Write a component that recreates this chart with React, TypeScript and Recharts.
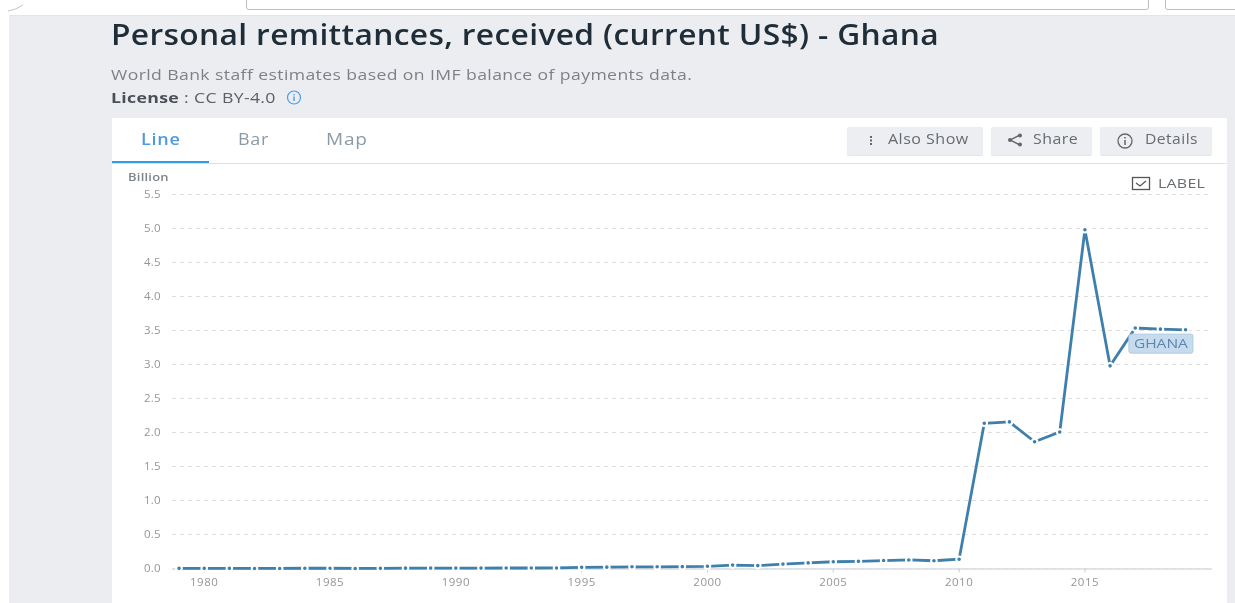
import React from "react";
import { LineChart, Line, XAxis, YAxis, CartesianGrid, LabelList } from "recharts";

const years = [1979,1980,1981,1982,1983,1984,1985,1986,1987,1988,1989,1990,1991,1992,1993,1994,1995,1996,1997,1998,1999,2000,2001,2002,2003,2004,2005,2006,2007,2008,2009,2010,2011,2012,2013,2014,2015,2016,2017,2018,2019];
const remittances = [0.002,0.002,0.002,0.001,0.001,0.004,0.004,0.001,0.002,0.005,0.006,0.006,0.006,0.007,0.007,0.008,0.017,0.02,0.025,0.025,0.027,0.032,0.05,0.043,0.065,0.082,0.099,0.105,0.117,0.126,0.114,0.136,2.135,2.156,1.864,2.008,4.982,2.98,3.537,3.52,3.51];
const yTicks = [0,0.5,1,1.5,2,2.5,3,3.5,4,4.5,5,5.5];
const xTicks = [1980,1985,1990,1995,2000,2005,2010,2015];
const seriesName = "GHANA";
const labelYear = 2018;
const data = years.map((year, i) => ({ year, value: remittances[i] }));

const FONT = "'Open Sans', sans-serif";
const abs = (left: number, top: number, extra: React.CSSProperties = {}): React.CSSProperties => ({
  position: "absolute", left, top, whiteSpace: "nowrap", fontFamily: FONT, ...extra,
});
const wide = (sx: number): React.CSSProperties => ({ transform: `scaleX(${sx})`, transformOrigin: "left center" });

function Button({ left, width, label, textLeft, sx, icon }: { left: number; width: number; label: string; textLeft: number; sx: number; icon: React.ReactNode }) {
  return (
    <div style={abs(left, 127, { width, height: 28, background: "#eceef1", borderRadius: 2, boxShadow: "0 1px 1px #e2e3e6" })}>
      {icon}
      <span style={abs(textLeft - left, 3, { fontSize: 14.5, color: "#676c71", letterSpacing: 0.42, lineHeight: "18px", ...wide(sx) })}>{label}</span>
    </div>
  );
}

function SeriesTag(props: any) {
  const { x, y, index } = props;
  if (years[index] !== labelYear) return null;
  return (
    <g>
      <rect x={x - 31.5} y={y + 5} width={64} height={19} rx={2} fill="#c6dbee" stroke="#aecbe4" />
      <text x={x + 0.5} y={y + 19} textAnchor="middle" fontFamily={FONT} fontSize={12.5} textLength={54} lengthAdjust="spacingAndGlyphs" fill="#5f86ad">{seriesName}</text>
    </g>
  );
}

export default function App() {
  return (
    <div style={{ position: "fixed", left: 0, top: 0, width: 1235, height: 603, overflow: "hidden", background: "#ffffff", filter: "blur(0.35px)" }}>
      <div style={{ position: "absolute", left: 9, top: 15, width: 1226, height: 588, background: "#ecedf1", borderTop: "1px solid #e4e4e6", boxSizing: "border-box" }} />
      <div style={{ position: "absolute", left: 246, top: -4, width: 903, height: 14, background: "#fff", border: "1px solid #bdbdbd", borderRadius: 3, boxSizing: "border-box" }} />
      <div style={{ position: "absolute", left: 1165, top: -4, width: 80, height: 14, background: "#fff", border: "1px solid #bdbdbd", borderRadius: 3, boxSizing: "border-box" }} />
      <svg style={{ position: "absolute", left: 0, top: 0 }} width={30} height={16}>
        <path d="M8 11 Q16 10 23 5" fill="none" stroke="#c4c4c4" />
      </svg>

      <div style={abs(111, 15, { fontSize: 28, fontWeight: 600, color: "#1f2d38", letterSpacing: 0.3, lineHeight: "38px", ...wide(1.134) })}>Personal remittances, received (current US$) - Ghana</div>
      <div style={abs(111, 64, { fontSize: 15, color: "#7d8186", letterSpacing: 0.34, lineHeight: "20px", ...wide(1.173) })}>World Bank staff estimates based on IMF balance of payments data.</div>
      <div style={abs(111, 87, { fontSize: 15, color: "#5c6066", letterSpacing: 0.28, lineHeight: "20px", ...wide(1.18) })}><b style={{ color: "#4a4f55" }}>License</b> : CC BY-4.0</div>
      <svg style={{ position: "absolute", left: 286, top: 90 }} width={16} height={16}>
        <circle cx={8} cy={7.5} r={6.5} fill="none" stroke="#4a9be8" strokeWidth={1.2} />
        <path d="M8 6.5V11M8 4V5.2" stroke="#4a9be8" strokeWidth={1.4} />
      </svg>

      <div style={{ position: "absolute", left: 112, top: 118, width: 1115, height: 485, background: "#fff" }} />
      <div style={{ position: "absolute", left: 112, top: 163, width: 1115, height: 1, background: "#dfe1e4" }} />
      <div style={{ position: "absolute", left: 112, top: 161, width: 97, height: 2, background: "#2f9bea" }} />
      <div style={abs(141, 129, { fontSize: 16, fontWeight: 600, color: "#4c9be0", letterSpacing: 0.65, lineHeight: "20px", ...wide(1.125) })}>Line</div>
      <div style={abs(238, 129, { fontSize: 16, color: "#8a9aa6", letterSpacing: 0.65, lineHeight: "20px", ...wide(1.125) })}>Bar</div>
      <div style={abs(326, 129, { fontSize: 16, color: "#8a9aa6", letterSpacing: 0.65, lineHeight: "20px", ...wide(1.19) })}>Map</div>

      <Button left={847} width={136} label="Also Show" textLeft={888} sx={1.108} icon={
        <svg style={{ position: "absolute", left: 20, top: 7 }} width={8} height={14}><path d="M4 2V4M4 5.5V7.5M4 9V11" stroke="#666" strokeWidth={2} /></svg>
      } />
      <Button left={991} width={101} label="Share" textLeft={1033} sx={1.1} icon={
        <svg style={{ position: "absolute", left: 15, top: 5 }} width={18} height={16}>
          <path d="M14 3L4 8L14 13" fill="none" stroke="#666" strokeWidth={1.4} />
          <circle cx={14} cy={3.5} r={2} fill="#666" /><circle cx={4} cy={8} r={2} fill="#666" /><circle cx={14} cy={12.5} r={2} fill="#666" />
        </svg>
      } />
      <Button left={1100} width={112} label="Details" textLeft={1145} sx={1.08} icon={
        <svg style={{ position: "absolute", left: 15, top: 5 }} width={20} height={18}>
          <circle cx={10} cy={9} r={7} fill="none" stroke="#666" strokeWidth={1.3} />
          <path d="M10 8V13M10 5V6.6" stroke="#666" strokeWidth={1.5} />
        </svg>
      } />

      <div style={abs(128, 170, { fontSize: 11, fontWeight: 600, color: "#7f8489", letterSpacing: 0.2, lineHeight: "14px", ...wide(1.18) })}>Billion</div>
      <svg style={{ position: "absolute", left: 1131, top: 176 }} width={20} height={15}>
        <rect x={1.5} y={1.5} width={17} height={12} fill="#fff" stroke="#555" strokeWidth={1.3} />
        <path d="M5 7L9 10L15 5" fill="none" stroke="#555" strokeWidth={1.2} />
      </svg>
      <div style={abs(1158, 175, { fontSize: 13.5, color: "#676c71", letterSpacing: 0.2, lineHeight: "17px", ...wide(1.18) })}>LABEL</div>

      <div style={{ position: "absolute", left: 172, top: 568, width: 1040, height: 1.5, background: "#dfe3ea" }} />

      <div style={{ position: "absolute", left: 0, top: 0 }}>
        <LineChart width={1235} height={603} data={data} margin={{ top: 194.5, right: 23, bottom: 4.5, left: 112 }}>
          <CartesianGrid horizontal vertical={false} stroke="#dedede" strokeDasharray="4 4" />
          <XAxis
            dataKey="year" type="number" domain={[1978.72, 2020.05]} ticks={xTicks} interval={0}
            height={30} tickSize={4} tickMargin={5} allowDataOverflow
            tick={{ fontSize: 11.5, fill: "#969696", fontFamily: FONT, letterSpacing: 0.5 }}
            axisLine={false} tickLine={{ stroke: "#cccccc" }}
          />
          <YAxis
            type="number" domain={[0, 5.5]} ticks={yTicks} interval={0} width={60}
            tickFormatter={(v: number) => v.toFixed(1)} tickLine={false} axisLine={false} tickSize={0} tickMargin={11} dy={-1}
            tick={{ fontSize: 11.5, fill: "#969696", fontFamily: FONT, letterSpacing: 0.3, dy: -1 }}
          />
          <Line
            type="linear" dataKey="value" stroke="#3f7fac" strokeWidth={2.8} isAnimationActive={false}
            dot={{ r: 2.8, fill: "#3f7fac", stroke: "#ffffff", strokeWidth: 2 }}
          >
            <LabelList dataKey="value" content={SeriesTag} />
          </Line>
        </LineChart>
      </div>
    </div>
  );
}
